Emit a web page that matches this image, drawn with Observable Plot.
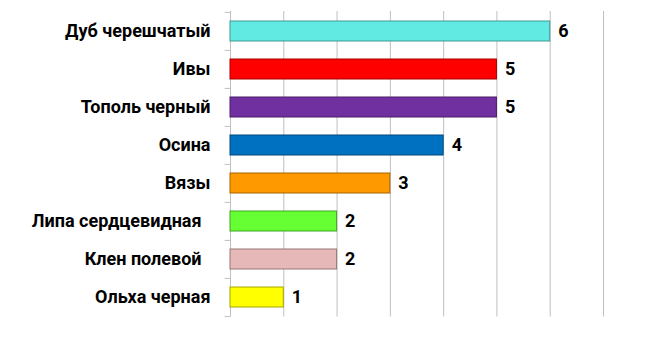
<!DOCTYPE html>
<html><head><meta charset="utf-8">
<script src="https://cdn.jsdelivr.net/npm/d3@7"></script>
<script src="https://cdn.jsdelivr.net/npm/@observablehq/plot@0.6"></script>
<style>
html,body{margin:0;padding:0;background:#fff;}
svg{font-family:Roboto,"Open Sans",sans-serif;}
</style>
</head><body>
<div id="chart"></div>
<script>
const categories = ["Дуб черешчатый","Ивы","Тополь черный","Осина","Вязы","Липа сердцевидная","Клен полевой","Ольха черная"];
const values = [6,5,5,4,3,2,2,1];
const colors = ["#60eae2","#ff0000","#7030a0","#0070c0","#ff9900","#66ff33","#e6b9b8","#ffff00"];
const xTicks = [0,1,2,3,4,5,6,7];
const trailing = ["Липа сердцевидная","Клен полевой"];

const data = categories.map((c,i)=>({cat:c, value:values[i], color:colors[i], stroke:d3.color(colors[i]).darker(1.2).formatHex()}));

const chart = Plot.plot({
  width: 656, height: 341,
  marginLeft: 230, marginRight: 53, marginTop: 11, marginBottom: 24.5,
  x: {domain:[0,7], axis:null},
  y: {domain: categories, paddingInner: 0.48, paddingOuter: 0.24, axis:null},
  style: {fontSize:"18px", fontWeight:"bold", color:"#000"},
  marks: [
    Plot.ruleX(xTicks, {x: d=>d, stroke:"#bfbfbf", strokeWidth:1}),
    Plot.ruleY(categories, {y: d=>d, x1:-0.1, x2:0, dy:-19.1, stroke:"#bfbfbf"}),
    Plot.ruleY([categories[categories.length-1]], {y: d=>d, x1:-0.1, x2:0, dy:19.1, stroke:"#bfbfbf"}),
    Plot.barX(data, {x:"value", y:"cat", fill:"color", stroke:"stroke", strokeWidth:1}),
    Plot.text(data, {x:"value", y:"cat", text: d=>String(d.value), dx:8, textAnchor:"start", fontSize:18, fontWeight:"bold", fill:"#000"}),
    Plot.axisY({tickSize:0, tickPadding:20, fontSize:18, fontWeight:"bold", label:null,
      tickFormat: d => trailing.includes(d) ? d + "\u00a0\u00a0" : d})
  ]
});
document.getElementById("chart").appendChild(chart);
</script>
</body></html>
